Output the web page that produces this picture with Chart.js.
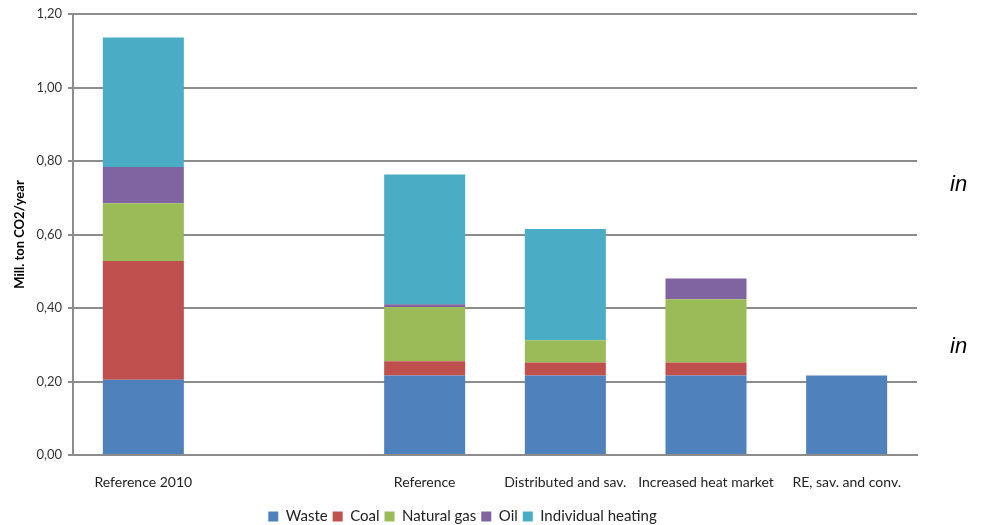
<!DOCTYPE html>
<html>
<head>
  <meta charset="UTF-8">
  <title>CO2 emissions</title>
  <script src="https://cdn.jsdelivr.net/npm/chart.js"></script>
  <style>
    body { margin: 0; background: #fff; }
    #wrap { position: relative; width: 989px; height: 525px; }
    .side { position: absolute; font: italic 22px "Liberation Sans", sans-serif; color: #000; }
  </style>
</head>
<body>
  <div id="wrap">
    <canvas id="chart" width="989" height="525"></canvas>
    <span class="side" style="left:950px; top:171px;">in</span>
    <span class="side" style="left:950px; top:333px;">in</span>
  </div>

  <script>
    const categories = ['Reference 2010', '', 'Reference', 'Distributed and sav.', 'Increased heat market', 'RE, sav. and conv.'];
    const waste   = [0.205, null, 0.216, 0.216, 0.216, 0.216];
    const coal    = [0.323, null, 0.039, 0.036, 0.036, 0];
    const gas     = [0.157, null, 0.148, 0.060, 0.172, 0];
    const oil     = [0.099, null, 0.007, 0, 0.056, 0];
    const heating = [0.352, null, 0.353, 0.303, 0, 0];

    const font = "Lato, sans-serif";
    const grey = '#8c8c8c';

    const ctx = document.getElementById('chart').getContext('2d');
    new Chart(ctx, {
      type: 'bar',
      data: {
        labels: categories,
        datasets: [
          { label: 'Waste', data: waste, backgroundColor: '#4f81bd' },
          { label: 'Coal', data: coal, backgroundColor: '#c0504d' },
          { label: 'Natural gas', data: gas, backgroundColor: '#9bbb59' },
          { label: 'Oil', data: oil, backgroundColor: '#8064a2' },
          { label: 'Individual heating', data: heating, backgroundColor: '#4bacc6' }
        ]
      },
      options: {
        responsive: false,
        animation: false,
        layout: { padding: { top: 14, right: 72, left: 8, bottom: -9 } },
        datasets: { bar: { barPercentage: 0.576, categoryPercentage: 1, borderWidth: 0 } },
        plugins: {
          tooltip: { enabled: false },
          legend: {
            position: 'bottom',
            labels: { font: { family: font, size: 15 }, color: '#222', boxWidth: 10, boxHeight: 10, padding: 5 }
          }
        },
        scales: {
          x: {
            stacked: true,
            grid: { display: false },
            border: { display: true, color: grey, width: 2 },
            afterFit: s => { s.height = 49; },
            ticks: { autoSkip: false, font: { family: font, size: 14 }, color: '#222', maxRotation: 0, padding: 11 }
          },
          y: {
            stacked: true,
            min: 0, max: 1.2,
            afterFit: s => { s.width = 65; },
            grid: { color: grey, lineWidth: 2, tickLength: 5 },
            border: { display: true, color: grey, width: 2 },
            ticks: {
              stepSize: 0.2,
              font: { family: font, size: 13 },
              color: '#333',
              padding: 6,
              callback: v => v.toFixed(2).replace('.', ',')
            },
            title: { display: true, text: 'Mill. ton CO2/year', font: { family: font, size: 13, weight: 'bold' }, color: '#000', padding: 4 }
          }
        }
      }
    });
  </script>
</body>
</html>
